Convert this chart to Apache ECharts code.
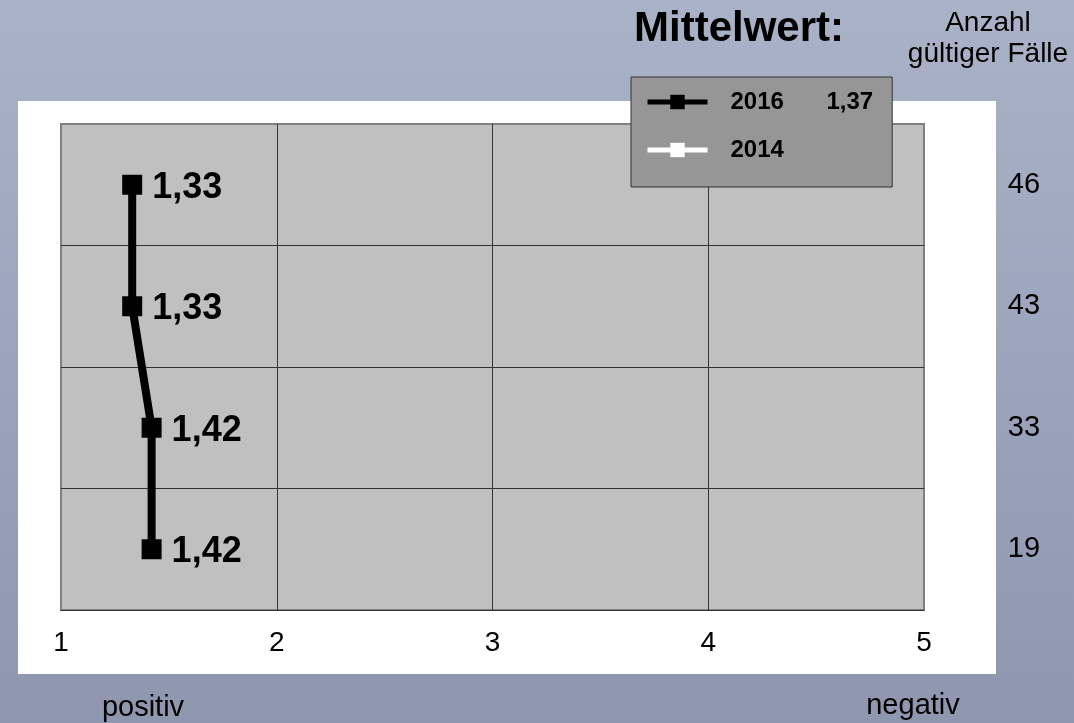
<!DOCTYPE html>
<html><head><meta charset="utf-8">
<script src="https://cdn.jsdelivr.net/npm/echarts@6/dist/echarts.min.js"></script>
<style>html,body{margin:0;padding:0;}#c{width:1074px;height:723px;}</style>
</head><body><div id="c"></div>
<script>
const categories = ['Item 1', 'Item 2', 'Item 3', 'Item 4'];
const caseCounts = ['46', '43', '33', '19'];
const values2016 = [1.33, 1.33, 1.42, 1.42];
const values2014 = [];
const mean2016 = '1,37';
const xTicks = [1, 2, 3, 4, 5];

const fmt = v => v.toFixed(2).replace('.', ',');
const FONT = 'Arial, "Liberation Sans", sans-serif';

const chart = echarts.init(document.getElementById('c'));
chart.setOption({
  animation: false,
  backgroundColor: {type: 'linear', x: 0, y: 0, x2: 0, y2: 1,
    colorStops: [{offset: 0, color: '#aab2c8'}, {offset: 1, color: '#8e97ae'}]},
  textStyle: {fontFamily: FONT},
  title: {text: 'Mittelwert:', left: 634, top: 8, padding: 0,
    textStyle: {fontSize: 42, fontWeight: 'bold', color: '#000', fontFamily: FONT}},
  graphic: [
    {type: 'rect', z: -10, shape: {x: 18, y: 101, width: 978, height: 573}, style: {fill: '#ffffff'}},
    {type: 'text', x: 988, y: 8, style: {text: 'Anzahl\ngültiger Fälle', align: 'center', verticalAlign: 'top',
      font: '28px ' + FONT, lineHeight: 31, fill: '#000'}},
    {type: 'text', x: 143, y: 708, style: {text: 'positiv', align: 'center', verticalAlign: 'middle',
      font: '29px ' + FONT, fill: '#000'}},
    {type: 'text', x: 913, y: 706, style: {text: 'negativ', align: 'center', verticalAlign: 'middle',
      font: '29px ' + FONT, fill: '#000'}}
  ],
  legend: {
    orient: 'vertical', left: 631, top: 77,
    padding: [13, 19, 25, 14], itemGap: 24,
    itemWidth: 60, itemHeight: 18,
    lineStyle: {width: 5},
    backgroundColor: '#969696', borderColor: '#333', borderWidth: 1,
    data: ['2016', '2014'],
    formatter: name => name === '2016' ? '{y|' + name + '}{v|' + mean2016 + '}' : '{y|' + name + '}',
    textStyle: {
      rich: {
        y: {width: 96, padding: [0, 0, 0, 18], fontSize: 24, fontWeight: 'bold', color: '#000', lineHeight: 28, fontFamily: FONT},
        v: {fontSize: 24, fontWeight: 'bold', color: '#000', lineHeight: 28, fontFamily: FONT}
      }
    }
  },
  grid: {left: 61, top: 124, width: 863, height: 486, show: true,
    backgroundColor: '#c0c0c0', borderColor: '#808080', borderWidth: 2},
  xAxis: {type: 'value', min: xTicks[0], max: xTicks[xTicks.length - 1], interval: 1,
    axisLine: {show: true, onZero: false, lineStyle: {color: '#333', width: 1}},
    axisTick: {show: false},
    axisLabel: {fontSize: 28, color: '#000', margin: 19, fontFamily: FONT},
    splitLine: {show: true, showMinLine: false, showMaxLine: false, lineStyle: {color: '#333', width: 1}}},
  yAxis: [
    {type: 'category', data: categories, inverse: true,
      axisLine: {show: false}, axisTick: {show: false}, axisLabel: {show: false},
      splitLine: {show: true, showMinLine: false, showMaxLine: false, lineStyle: {color: '#333', width: 1}}},
    {type: 'category', data: caseCounts, inverse: true, position: 'right',
      axisLine: {show: false}, axisTick: {show: false}, splitLine: {show: false},
      axisLabel: {fontSize: 29, color: '#000', margin: 100, align: 'center', fontFamily: FONT}}
  ],
  series: [
    {name: '2016', type: 'line', yAxisIndex: 0, data: values2016,
      symbol: 'rect', symbolSize: 20, color: '#000',
      lineStyle: {color: '#000', width: 8}, itemStyle: {color: '#000'},
      label: {show: true, position: 'right', distance: 10, offset: [0, 3], formatter: p => fmt(p.value),
        fontSize: 36, fontWeight: 'bold', color: '#000', fontFamily: FONT}},
    {name: '2014', type: 'line', yAxisIndex: 0, data: values2014,
      symbol: 'rect', symbolSize: 20, color: '#fff',
      lineStyle: {color: '#fff', width: 8}, itemStyle: {color: '#fff'}}
  ]
});
</script>
</body></html>
